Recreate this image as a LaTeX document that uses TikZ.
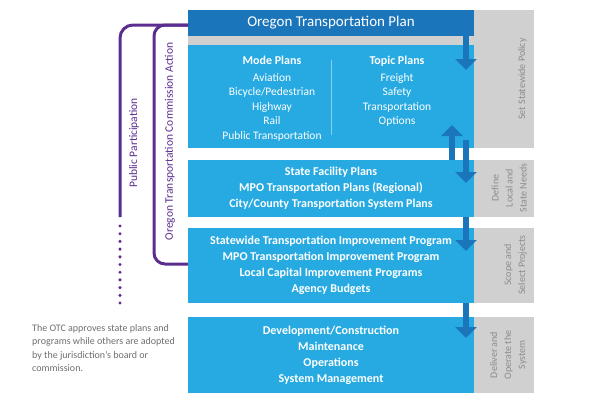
\documentclass[tikz,border=0pt]{standalone}
\usepackage{fontspec}
\setmainfont{Carlito}
\usetikzlibrary{arrows.meta}
\definecolor{dblue}{HTML}{1B75BB}
\definecolor{lblue}{HTML}{27AAE1}
\definecolor{lgray}{HTML}{D1D0D0}
\definecolor{purp}{HTML}{5B2D8E}
\definecolor{tgray}{HTML}{6D6E71}
\definecolor{glab}{HTML}{8C8C8C}
\definecolor{divl}{HTML}{8ACDEE}
\begin{document}
\begin{tikzpicture}[x=1pt,y=-1pt,
  boxstyle/.style={fill=lblue, draw=none, minimum width=286pt, anchor=north west, inner sep=0pt, outer sep=0pt,
     text=white, font=\fontsize{12}{16}\selectfont\bfseries, align=center},
  graystyle/.style={fill=lgray, draw=none, minimum width=60pt, anchor=north west, inner sep=0pt, outer sep=0pt},
  glabel/.style={rotate=90, anchor=south, align=center, inner sep=0pt, text=glab, font=\fontsize{10}{14}\selectfont},
  plabel/.style={rotate=90, inner sep=0pt, text=purp, font=\fontsize{11.5}{13}\selectfont},
  colstyle/.style={anchor=north, align=center, inner sep=0pt, text=white, font=\fontsize{11.5}{14.5}\selectfont},
  arr/.style={draw=dblue, line width=6.5pt, -{Triangle[length=11pt,width=21pt]}},
  pline/.style={draw=purp, line width=3pt}
]
\useasboundingbox (0,0) rectangle (600,400);

% gray columns
\node[graystyle, minimum height=138pt] (g1) at (474,10) {};
\node[graystyle, minimum height=57pt] (g2) at (474,160) {};
\node[graystyle, minimum height=75pt] (g3) at (474,228) {};
\node[graystyle, minimum height=76pt] (g4) at (474,317) {};

% top bar and strip
\node[fill=dblue, minimum width=286pt, minimum height=26pt, anchor=north west, inner sep=0pt, outer sep=0pt,
  text=white, font=\fontsize{15}{16}\selectfont] (top) at (188,10) {Oregon Transportation Plan};
\node[fill=lgray, minimum width=286pt, minimum height=9pt, anchor=north west, inner sep=0pt, outer sep=0pt] (strip) at (188,36) {};

% boxes
\node[boxstyle, minimum height=103pt] (b1) at (188,45) {};
\node[boxstyle, minimum height=57pt] (b2) at (188,160) {State Facility Plans\\MPO Transportation Plans (Regional)\\City/County Transportation System Plans};
\node[boxstyle, minimum height=75pt] (b3) at (188,228) {Statewide Transportation Improvement Program\\MPO Transportation Improvement Program\\Local Capital Improvement Programs\\Agency Budgets};
\node[boxstyle, minimum height=76pt] (b4) at (188,317) {Development/Construction\\Maintenance\\Operations\\System Management};

% box 1 columns
\node[colstyle] (mode) at (272,56) {{\fontsize{12}{13}\selectfont\bfseries Mode Plans}\\[2pt]Aviation\\Bicycle/Pedestrian\\Highway\\Rail\\Public Transportation};
\node[colstyle] (topic) at (397,56) {{\fontsize{12}{13}\selectfont\bfseries Topic Plans}\\[2pt]Freight\\Safety\\Transportation\\Options};
\coordinate (dv1) at (331,60);
\coordinate (dv2) at (331,135);
\draw[divl, line width=0.8pt] (dv1) -- (dv2);

% gray labels
\node[glabel] (l1) at (527,79) {Set Statewide Policy};
\node[glabel] (l2) at (527,188) {Define\\Local and\\State Needs};
\node[glabel] (l3) at (527,265) {Scope and\\Select Projects};
\node[glabel] (l4) at (527,355) {Deliver and\\Operate the\\System};

% arrows
\coordinate (t1) at (466,70);
\coordinate (t2) at (452,125);
\coordinate (s3) at (466,140);
\coordinate (t3) at (466,183);
\coordinate (t4) at (466,251);
\coordinate (t5) at (466,338);
\draw[arr] (top.south -| t1) -- (t1);
\draw[arr] (b2.north -| t2) -- (t2);
\draw[arr] (s3) -- (t3);
\draw[arr] (b2.south -| t4) -- (t4);
\draw[arr] (b3.south -| t5) -- (t5);

% purple lines
\coordinate (pj) at (188,25);
\coordinate (po) at (120,217);
\coordinate (pi) at (154,264);
\draw[pline, rounded corners=13pt] (pj) -| (po);
\draw[pline, rounded corners=11pt] (pj) -| (pi) -- (b3.west |- pi);
\foreach \i in {0,...,10} {
  \fill[purp] (120,226+7.7*\i) circle (1.7pt);
}
\node[plabel] (pp) at (134,143) {Public Participation};
\node[plabel] (otc) at (170,141.5) {Oregon Transportation Commission Action};

% note
\node[anchor=north west, align=left, inner sep=0pt, text=tgray, font=\fontsize{10}{13.6}\selectfont] (note) at (32,324)
  {The OTC approves state plans and\\programs while others are adopted\\by the jurisdiction's board or\\commission.};
\end{tikzpicture}
\end{document}
